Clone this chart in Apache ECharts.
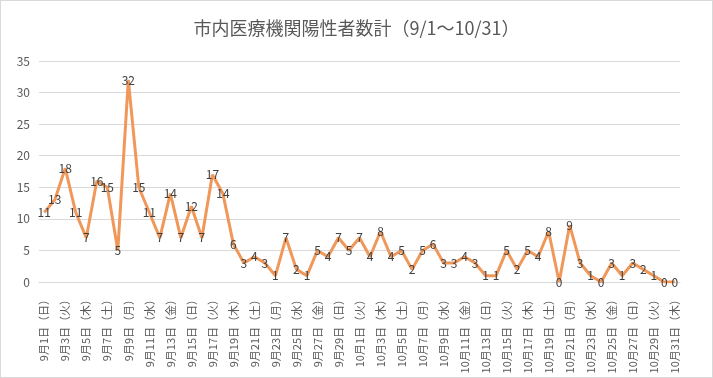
<!DOCTYPE html>
<html>
<head>
<meta charset="utf-8">
<script src="https://cdn.jsdelivr.net/npm/echarts@6/dist/echarts.min.js"></script>
<style>
  html, body { margin: 0; padding: 0; background: #fff; }
  #chart { width: 713px; height: 378px; box-sizing: border-box; border: 1px solid #d9d9d9; }
</style>
</head>
<body>
<div id="chart"></div>
<script>
const title = "市内医療機関陽性者数計（9/1～10/31）";
const weekdays = ["日", "月", "火", "水", "木", "金", "土"];

// 9/1 (日) .. 10/31 (木)
const days = [];
for (let m = 9; m <= 10; m++) {
  const last = m === 9 ? 30 : 31;
  for (let d = 1; d <= last; d++) days.push([m, d]);
}
const categories = days.map(([m, d], i) => m + "月" + d + "日（" + weekdays[i % 7] + "）");

const positives = [
  11, 13, 18, 11, 7, 16, 15, 5, 32, 15,
  11, 7, 14, 7, 12, 7, 17, 14, 6, 3,
  4, 3, 1, 7, 2, 1, 5, 4, 7, 5,
  7, 4, 8, 4, 5, 2, 5, 6, 3, 3,
  4, 3, 1, 1, 5, 2, 5, 4, 8, 0,
  9, 3, 1, 0, 3, 1, 3, 2, 1, 0,
  0
];

const font = '"Noto Sans CJK JP", "Noto Sans", sans-serif';
const chart = echarts.init(document.getElementById("chart"));

chart.setOption({
  animation: false,
  textStyle: { fontFamily: font },
  title: {
    text: title,
    left: "center",
    top: 13,
    textStyle: { fontFamily: font, fontSize: 18, fontWeight: "normal", color: "#595959" }
  },
  grid: { left: 38, right: 32, top: 60, bottom: 95, outerBoundsMode: "none", containLabel: false },
  xAxis: {
    type: "category",
    data: categories,
    boundaryGap: true,
    axisLine: { lineStyle: { color: "#d9d9d9" } },
    axisTick: { show: false },
    axisLabel: {
      interval: 1,
      rotate: 90,
      fontSize: 11,
      color: "#595959",
      margin: 12
    }
  },
  yAxis: {
    type: "value",
    min: 0,
    max: 35,
    interval: 5,
    axisLine: { show: false },
    axisTick: { show: false },
    splitLine: { lineStyle: { color: "#d9d9d9" } },
    axisLabel: { fontSize: 12, color: "#595959", margin: 9 }
  },
  series: [{
    type: "line",
    data: positives,
    symbol: "circle",
    symbolSize: 2,
    showSymbol: true,
    itemStyle: { color: "rgba(0,0,0,0)" },
    lineStyle: { color: "#F0975A", width: 3 },
    label: {
      show: true,
      position: "inside",
      fontSize: 12,
      color: "#404040"
    }
  }]
});
</script>
</body>
</html>
